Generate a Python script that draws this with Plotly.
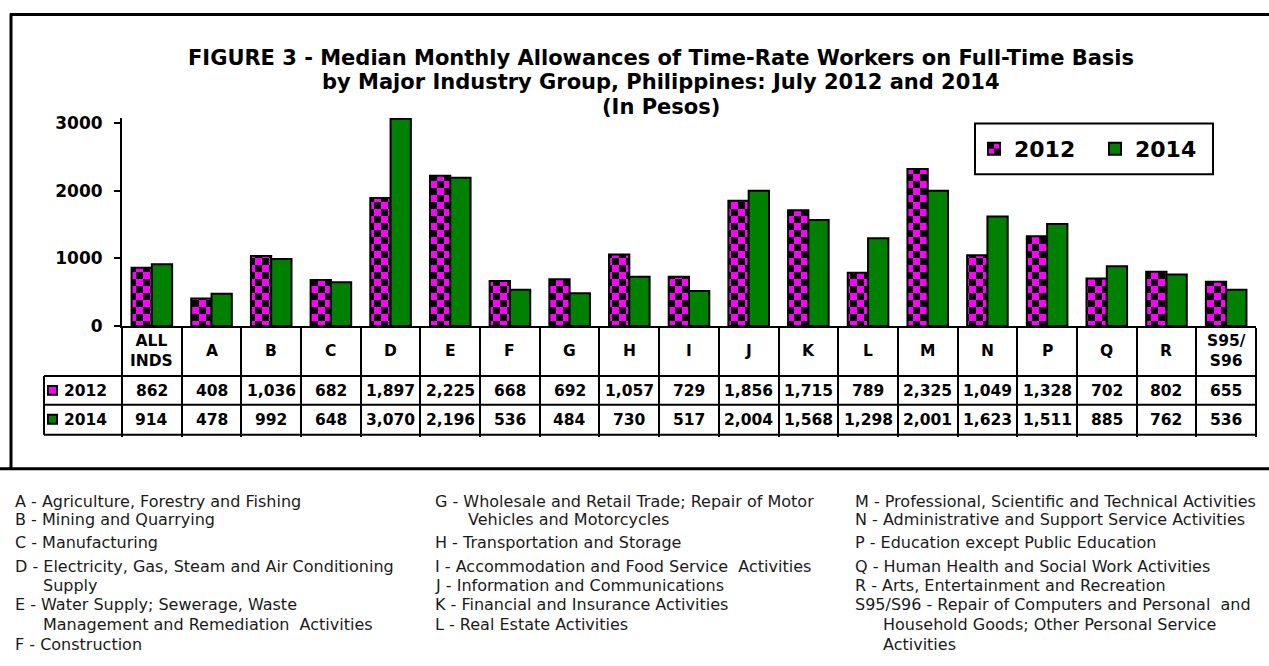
import plotly.graph_objects as go

# ---------------- data ----------------
categories = ["ALL INDS", "A", "B", "C", "D", "E", "F", "G", "H", "I", "J", "K", "L", "M", "N", "P", "Q", "R", "S95/S96"]
header_labels = ["ALL<br>INDS", "A", "B", "C", "D", "E", "F", "G", "H", "I", "J", "K", "L", "M", "N", "P", "Q", "R", "S95/<br>S96"]
values_2012 = [862, 408, 1036, 682, 1897, 2225, 668, 692, 1057, 729, 1856, 1715, 789, 2325, 1049, 1328, 702, 802, 655]
values_2014 = [914, 478, 992, 648, 3070, 2196, 536, 484, 730, 517, 2004, 1568, 1298, 2001, 1623, 1511, 885, 762, 536]
series_names = ["2012", "2014"]
y_ticks = [0, 1000, 2000, 3000]
title_lines = ["FIGURE 3 - Median Monthly Allowances of Time-Rate Workers on Full-Time Basis",
               "by Major Industry Group, Philippines: July 2012 and 2014",
               "(In Pesos)"]

notes_col1 = ["A - Agriculture, Forestry and Fishing", "B - Mining and Quarrying", "C - Manufacturing",
              "D - Electricity, Gas, Steam and Air Conditioning", "Supply", "E - Water Supply; Sewerage, Waste",
              "Management and Remediation  Activities", "F - Construction"]
notes_col2 = ["G - Wholesale and Retail Trade; Repair of Motor", "Vehicles and Motorcycles",
              "H - Transportation and Storage", "I - Accommodation and Food Service  Activities",
              "J - Information and Communications", "K - Financial and Insurance Activities",
              "L - Real Estate Activities"]
notes_col3 = ["M - Professional, Scientific and Technical Activities",
              "N - Administrative and Support Service Activities", "P - Education except Public Education",
              "Q - Human Health and Social Work Activities", "R - Arts, Entertainment and Recreation",
              "S95/S96 - Repair of Computers and Personal  and", "Household Goods; Other Personal Service",
              "Activities"]

# ---------------- layout helpers ----------------
W, H = 1269, 666
Y_MAX = 3080
L, R, B = 122, 1256, 326
PX_PER_UNIT = (326 - 123) / 3000.0
T = B - Y_MAX * PX_PER_UNIT
FONT = "DejaVu Sans"
MAGENTA = "#FF00FF"
GREEN = "#008000"


def px(xp):
    return (xp - L) / (R - L)


def py(yp):
    return (B - yp) / (B - T)


fig = go.Figure()
fig.add_trace(go.Bar(
    x=categories, y=values_2012, name=series_names[0],
    marker=dict(color=MAGENTA, line=dict(color="black", width=2),
                pattern=dict(shape="+", fgcolor="black", bgcolor=MAGENTA, size=7, solidity=0.5)),
))
fig.add_trace(go.Bar(
    x=categories, y=values_2014, name=series_names[1],
    marker=dict(color=GREEN, line=dict(color="black", width=2)),
))

shapes = []
line_style = dict(color="black", width=2)
# outer frame
shapes.append(dict(type="line", xref="paper", yref="paper", x0=px(10), x1=px(1275), y0=py(14), y1=py(14),
                   line=dict(color="black", width=3)))
shapes.append(dict(type="line", xref="paper", yref="paper", x0=px(11), x1=px(11), y0=py(13), y1=py(469),
                   line=dict(color="black", width=3)))
shapes.append(dict(type="line", xref="paper", yref="paper", x0=px(-5), x1=px(1275), y0=py(469), y1=py(469),
                   line=dict(color="black", width=3)))
# table horizontal rules
for yy in (376, 405, 435):
    shapes.append(dict(type="line", xref="paper", yref="paper", x0=px(44), x1=1, y0=py(yy), y1=py(yy),
                       line=line_style))
shapes.append(dict(type="line", xref="paper", yref="paper", x0=px(44), x1=px(44), y0=py(376), y1=py(435),
                   line=line_style))
# row keys in table
shapes.append(dict(type="rect", xref="paper", yref="paper", x0=px(48), x1=px(57), y0=py(386), y1=py(395),
                   fillcolor=MAGENTA, line=dict(color="black", width=2)))
shapes.append(dict(type="rect", xref="paper", yref="paper", x0=px(48), x1=px(57), y0=py(415), y1=py(424),
                   fillcolor=GREEN, line=dict(color="black", width=2)))
# legend box
shapes.append(dict(type="rect", xref="paper", yref="paper", x0=px(975), x1=px(1213), y0=py(123), y1=py(174),
                   line=line_style, fillcolor="rgba(0,0,0,0)"))

annotations = []
# title lines
title_font = dict(family=FONT, size=21, color="black", weight="bold")
for t, yy in zip(title_lines, (57, 82, 107)):
    annotations.append(dict(x=px(661), xref="paper", y=py(yy), yref="paper", text=t, showarrow=False,
                            font=title_font, xanchor="center", yanchor="middle"))

bold = dict(family=FONT, size=15.5, color="black", weight="bold")
for cat, lab in zip(categories, header_labels):
    annotations.append(dict(x=cat, xref="x", y=py(351), yref="paper", text=lab, showarrow=False,
                            font=bold, xanchor="center", yanchor="middle"))
for cat, v12, v14 in zip(categories, values_2012, values_2014):
    annotations.append(dict(x=cat, xref="x", y=py(391), yref="paper", text=f"{v12:,}", showarrow=False,
                            font=bold, xanchor="center", yanchor="middle"))
    annotations.append(dict(x=cat, xref="x", y=py(420.5), yref="paper", text=f"{v14:,}", showarrow=False,
                            font=bold, xanchor="center", yanchor="middle"))
for name, yy in zip(series_names, (391, 420.5)):
    annotations.append(dict(x=px(62), xref="paper", y=py(yy), yref="paper", text=name, showarrow=False,
                            font=bold, xanchor="left", yanchor="middle"))

# footnotes
note_font = dict(family=FONT, size=16, color="#1a1a1a")
line_y = [502, 520, 543, 567, 586, 605, 625, 645]
col_specs = [
    (notes_col1, 13, 41, {4, 6}),
    (notes_col2, 433, 466, {1}),
    (notes_col3, 853, 881, {6, 7}),
]
for texts, x0, xind, indented in col_specs:
    for i, t in enumerate(texts):
        annotations.append(dict(x=px(xind if i in indented else x0), xref="paper", y=py(line_y[i]), yref="paper",
                                text=t, showarrow=False, font=note_font, xanchor="left", yanchor="middle"))

fig.update_layout(
    width=W, height=H,
    margin=dict(l=L, r=W - R, t=T, b=H - B, pad=0),
    paper_bgcolor="white", plot_bgcolor="white",
    barmode="group", bargap=0.32, bargroupgap=0,
    showlegend=True,
    legend=dict(orientation="h", x=px(974), xanchor="left", y=py(148.5), yanchor="middle",
                font=dict(family=FONT, size=22, color="black", weight="bold"),
                bgcolor="rgba(0,0,0,0)", borderwidth=0, entrywidth=76, entrywidthmode="pixels"),
    xaxis=dict(type="category", showticklabels=False, tickson="boundaries", ticks="outside",
               ticklen=109, tickwidth=2, tickcolor="black", tickmode="linear", tick0=0, dtick=1,
               showline=True, linewidth=2, linecolor="black", showgrid=False, zeroline=False,
               range=[-0.5, len(categories) - 0.5], fixedrange=True),
    yaxis=dict(range=[0, Y_MAX], tickvals=y_ticks, ticks="outside", ticklen=6, tickwidth=2,
               tickcolor="black", showline=True, linewidth=2, linecolor="black", showgrid=False,
               zeroline=False, ticklabelstandoff=8,
               tickfont=dict(family=FONT, size=17, color="black", weight="bold")),
    shapes=shapes, annotations=annotations,
)

post_js = """
document.body.style.margin = '0';
document.body.style.overflow = 'hidden';
setTimeout(function(){
  var gd = document.getElementById('{plot_id}');
  if(!gd) return;
  var NS = 'http://www.w3.org/2000/svg';
  gd.querySelectorAll('pattern').forEach(function(p){
    var c = 7, s = 2*c;
    while(p.firstChild) p.removeChild(p.firstChild);
    p.setAttribute('width', s + 'px');
    p.setAttribute('height', s + 'px');
    function r(x, y, w, h, f){
      var e = document.createElementNS(NS, 'rect');
      e.setAttribute('x', x); e.setAttribute('y', y);
      e.setAttribute('width', w); e.setAttribute('height', h);
      e.setAttribute('fill', f); p.appendChild(e);
    }
    r(0, 0, s, s, '#FF00FF');
    r(0, 0, c, c, '#000000');
    r(c, c, c, c, '#000000');
  });
}, 0);
"""

fig.write_html("out.html", post_script=post_js, config={"displayModeBar": False})
